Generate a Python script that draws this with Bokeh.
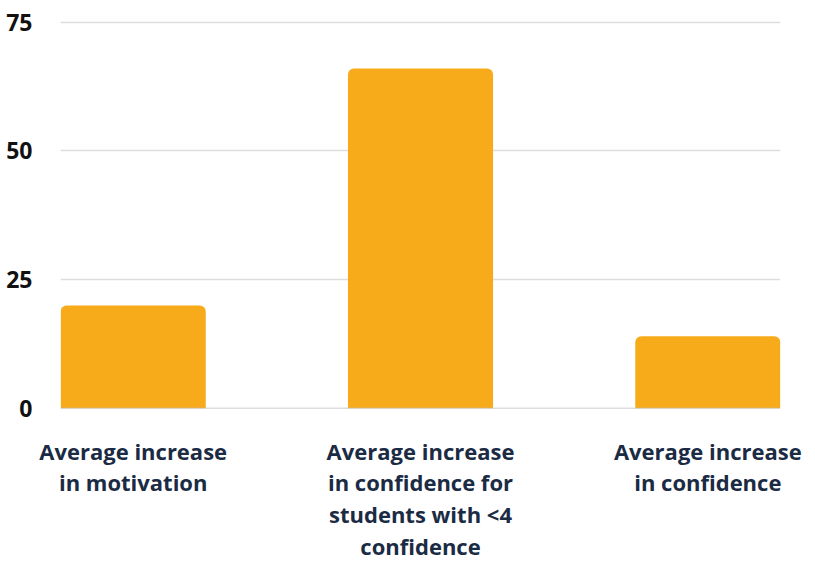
from bokeh.plotting import figure
from bokeh.models import Range1d, FixedTicker, Span
from bokeh.embed import file_html
from bokeh.resources import INLINE

categories = [
    "Average increase\nin motivation",
    "Average increase\nin confidence for\nstudents with <4\nconfidence",
    "Average increase\nin confidence",
]
values = [20, 66, 14]
y_ticks = [0, 25, 50, 75]

xs = list(range(len(categories)))

p = figure(output_backend="svg", toolbar_location=None,
           frame_width=720, frame_height=389,
           x_range=Range1d(-0.253, 2.253), y_range=Range1d(0, 75.5),
           min_border_left=60, min_border_right=35, min_border_top=19, min_border_bottom=0)

p.vbar(x=xs, top=values, width=0.505, fill_color="#F8AB1A", line_color=None,
       border_radius=(6, 6, 0, 0))

p.outline_line_color = None
p.xgrid.grid_line_color = None
p.ygrid.grid_line_color = "#DDDDDD"
p.ygrid.grid_line_width = 1.5
p.yaxis.ticker = FixedTicker(ticks=y_ticks)
p.xaxis.ticker = FixedTicker(ticks=xs)
p.xaxis.major_label_overrides = {i: c for i, c in enumerate(categories)}

for ax in (p.xaxis, p.yaxis):
    ax.axis_line_color = None
    ax.major_tick_line_color = None
    ax.minor_tick_line_color = None

p.yaxis.major_label_text_font = "Open Sans"
p.yaxis.major_label_text_font_style = "bold"
p.yaxis.major_label_text_font_size = "23px"
p.yaxis.major_label_text_color = "#111111"
p.yaxis.major_label_standoff = 22

p.xaxis.major_label_text_font = "Open Sans"
p.xaxis.major_label_text_font_style = "bold"
p.xaxis.major_label_text_font_size = "22px"
p.xaxis.major_label_text_color = "#1B2B44"
p.xaxis.major_label_standoff = 21
p.xaxis.major_label_text_line_height = 1.06

p.add_layout(Span(location=0, dimension="width", line_color="#BBBBBB", line_width=1.5))

open("out.html", "w").write(file_html(p, INLINE))
